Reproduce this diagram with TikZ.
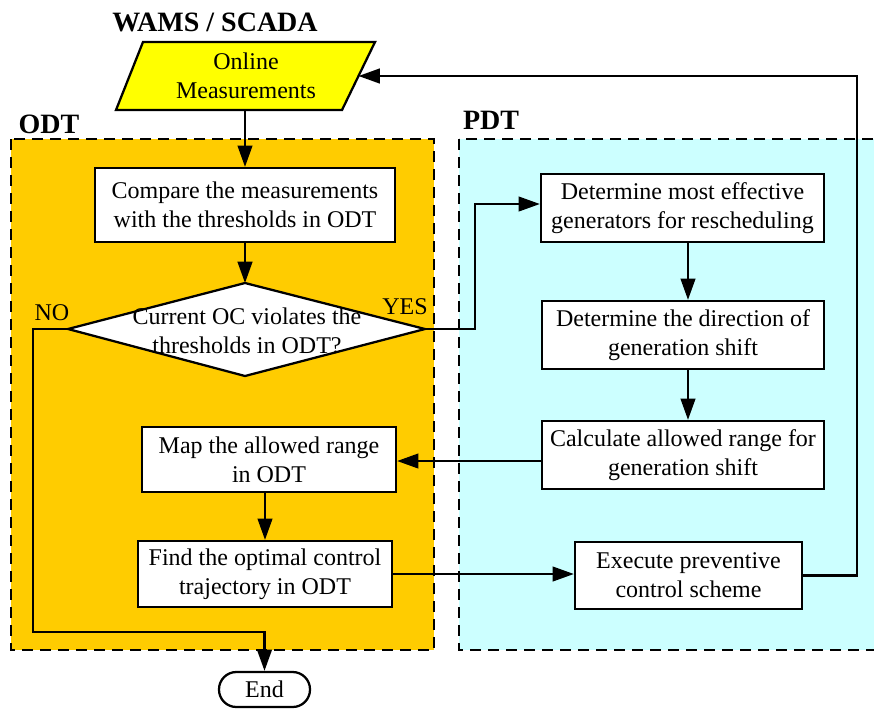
\documentclass[tikz,border=0pt]{standalone}
\usepackage{fontspec}
\setmainfont{Liberation Serif}
\usetikzlibrary{arrows.meta}
\definecolor{odtfill}{HTML}{FFCC00}
\definecolor{pdtfill}{HTML}{CCFFFF}
\definecolor{inyellow}{HTML}{FFFF00}
\begin{document}
\begin{tikzpicture}[x=0.75pt,y=-0.75pt,
  txt/.style={align=center, inner sep=0pt, font=\fontsize{18}{21.75}\selectfont},
  box/.style={draw, line width=1.7pt, fill=white, align=center, inner sep=2pt, font=\fontsize{18}{21.75}\selectfont},
  conn/.style={line width=1.7pt, -{Triangle[length=16pt,width=11pt]}},
  zone/.style={line width=2pt, dash pattern=on 8.5pt off 5pt},
  lbl/.style={inner sep=0pt, font=\fontsize{21}{24}\selectfont\bfseries},
  yn/.style={inner sep=0pt, font=\fontsize{18}{20}\selectfont}]
\useasboundingbox (0,0) rectangle (874,708);

% zones
\draw[zone, fill=odtfill] (11,139) rectangle (434,650);
\draw[zone, fill=pdtfill] (459,139) rectangle (884,650);

% labels
\node[lbl] (wams) at (215,22) {WAMS / SCADA};
\node[lbl] (odt) at (49,124) {ODT};
\node[lbl] (pdt) at (491,120) {PDT};

% parallelogram
\coordinate (p1) at (143,42);
\coordinate (p2) at (375,42);
\coordinate (p3) at (342,110);
\coordinate (p4) at (116,110);
\coordinate (pR) at (358.5,76);
\coordinate (pB) at (245,110);
\draw[line width=1.7pt, fill=inyellow] (p1) -- (p2) -- (p3) -- (p4) -- cycle;
\node[txt] (online) at (246,76) {Online\\Measurements};

% boxes
\node[box, minimum width=225pt, minimum height=55.5pt] (cmp) at (245,205) {Compare the measurements\\with the thresholds in ODT};
\node[box, minimum width=212.25pt, minimum height=51pt] (det1) at (682.5,208) {Determine most effective\\generators for rescheduling};
\node[box, minimum width=211.5pt, minimum height=51pt] (det2) at (683,335) {Determine the direction of\\generation shift};
\node[box, minimum width=211.5pt, minimum height=51pt] (calc) at (683,455) {Calculate allowed range for\\generation shift};
\node[box, minimum width=190.5pt, minimum height=48.75pt] (map) at (269,459.5) {Map the allowed range\\in ODT};
\node[box, minimum width=190.5pt, minimum height=49.5pt] (find) at (265,574) {Find the optimal control\\trajectory in ODT};
\node[box, minimum width=170.25pt, minimum height=50.25pt] (exec) at (688.5,575.5) {Execute preventive\\control scheme};
\node[box, rounded corners=13pt, minimum width=68.25pt, minimum height=26.25pt, inner sep=0pt] (endn) at (264.5,689.5) {End};

% diamond
\coordinate (dT) at (245,283);
\coordinate (dR) at (425,329);
\coordinate (dB) at (245,376);
\coordinate (dL) at (68,329);
\draw[line width=1.7pt, fill=white] (dT) -- (dR) -- (dB) -- (dL) -- cycle;
\node[txt] (dtext) at (247,331) {Current OC violates the\\thresholds in ODT?};
\node[yn] (no) at (52,313) {NO};
\node[yn] (yes) at (405,307) {YES};

% helper coordinates
\coordinate (loopc) at (857,76);
\coordinate (noA) at (33,632);
\coordinate (yesA) at (475,204);
\coordinate (cm) at (0,461);
\coordinate (dx) at (688,0);
\coordinate (mf) at (265,0);

% connectors
\draw[conn] (pB) -- (cmp.north);
\draw[conn] (cmp.south) -- (dT);
\draw[conn] (dR) -| (yesA) -- (det1.west |- yesA);
\draw[conn] (dL) -| (noA) -| (endn.north);
\draw[conn] (det1.south -| dx) -- (det2.north -| dx);
\draw[conn] (det2.south -| dx) -- (calc.north -| dx);
\draw[conn] (calc.west |- cm) -- (map.east |- cm);
\draw[conn] (map.south -| mf) -- (find.north -| mf);
\draw[conn] (find.east) -- (exec.west |- find.east);
\draw[conn] (exec.east) -| (loopc) -- (pR);
\end{tikzpicture}
\end{document}
